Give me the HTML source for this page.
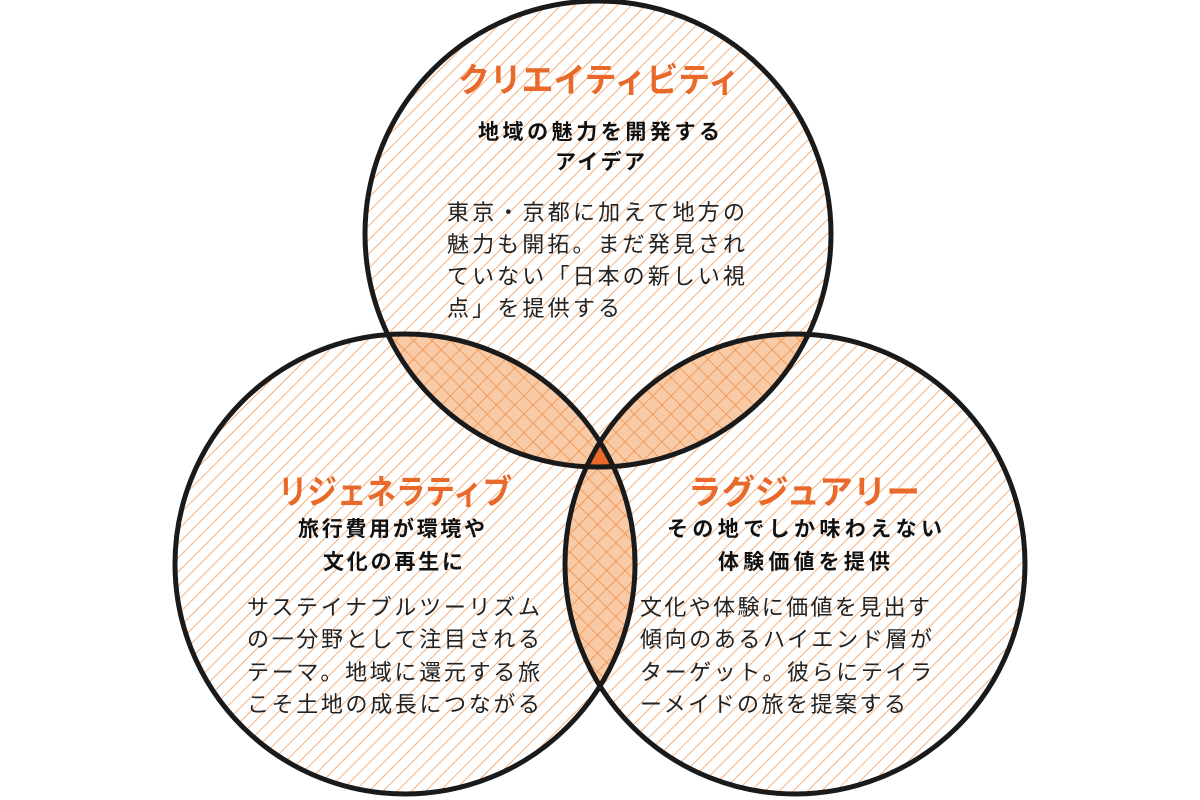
<!DOCTYPE html>
<html><head><meta charset="utf-8"><style>
html,body{margin:0;padding:0;background:#fff;}
svg{display:block;font-family:"Liberation Sans","Noto Sans CJK JP",sans-serif;}
.t{fill:#e8692a;font-weight:bold;font-size:34px;}
.s{fill:#111;font-weight:bold;font-size:21px;}
.b{fill:#222;font-size:22px;}
</style></head><body>
<svg width="1200" height="800" viewBox="0 0 1200 800" xmlns="http://www.w3.org/2000/svg">
<defs>
<pattern id="h" patternUnits="userSpaceOnUse" width="10" height="10" patternTransform="rotate(45)">
<line x1="0" y1="0" x2="0" y2="10" stroke="#ef8a3c" stroke-width="1.3"/>
</pattern>
<pattern id="x" patternUnits="userSpaceOnUse" width="13" height="13" patternTransform="rotate(45)">
<rect width="13" height="13" fill="#f8caa6"/>
<line x1="0" y1="0" x2="0" y2="13" stroke="#ef8a3c" stroke-width="1.4"/>
<line x1="0" y1="0" x2="13" y2="0" stroke="#ef8a3c" stroke-width="1.4"/>
</pattern>
<clipPath id="cA"><circle cx="598" cy="234" r="233"/></clipPath>
<clipPath id="cB"><circle cx="405" cy="564" r="230"/></clipPath>
<clipPath id="cC"><circle cx="795" cy="564" r="230"/></clipPath>
</defs>
<circle cx="598" cy="234" r="233" fill="url(#h)"/>
<circle cx="405" cy="564" r="230" fill="url(#h)"/>
<circle cx="795" cy="564" r="230" fill="url(#h)"/>
<g clip-path="url(#cA)"><circle cx="405" cy="564" r="230" fill="url(#x)"/><circle cx="795" cy="564" r="230" fill="url(#x)"/></g>
<g clip-path="url(#cB)"><circle cx="795" cy="564" r="230" fill="url(#x)"/></g>
<g clip-path="url(#cA)"><g clip-path="url(#cB)"><circle cx="795" cy="564" r="230" fill="#e8692a"/></g></g>
<g fill="none" stroke="#1a1a1a" stroke-width="5">
<circle cx="598" cy="234" r="233"/>
<circle cx="405" cy="564" r="230"/>
<circle cx="795" cy="564" r="230"/>
</g>
<text class="t" x="458" y="92" textLength="282" lengthAdjust="spacingAndGlyphs">クリエイティビティ</text>
<text class="s" x="478" y="139" textLength="242">地域の魅力を開発する</text>
<text class="s" x="555" y="169" textLength="90">アイデア</text>
<text class="b" x="447" y="220" textLength="298">東京・京都に加えて地方の</text>
<text class="b" x="447" y="252" textLength="298">魅力も開拓。まだ発見され</text>
<text class="b" x="447" y="284" textLength="298">ていない「日本の新しい視</text>
<text class="b" x="447" y="316" textLength="173">点」を提供する</text>

<text class="t" x="278" y="504" textLength="234" lengthAdjust="spacingAndGlyphs">リジェネラティブ</text>
<text class="s" x="298" y="536" textLength="187">旅行費用が環境や</text>
<text class="s" x="323" y="569" textLength="140">文化の再生に</text>
<text class="b" x="247" y="615" textLength="293">サステイナブルツーリズム</text>
<text class="b" x="247" y="647" textLength="293">の一分野として注目される</text>
<text class="b" x="247" y="680" textLength="293">テーマ。地域に還元する旅</text>
<text class="b" x="247" y="712" textLength="293">こそ土地の成長につながる</text>

<text class="t" x="688" y="504" textLength="232" lengthAdjust="spacingAndGlyphs">ラグジュアリー</text>
<text class="s" x="667" y="536" textLength="275">その地でしか味わえない</text>
<text class="s" x="718" y="569" textLength="172">体験価値を提供</text>
<text class="b" x="640" y="615" textLength="290">文化や体験に価値を見出す</text>
<text class="b" x="640" y="647" textLength="292">傾向のあるハイエンド層が</text>
<text class="b" x="640" y="680" textLength="292">ターゲット。彼らにテイラ</text>
<text class="b" x="640" y="712" textLength="266">ーメイドの旅を提案する</text>
</svg>
</body></html>
